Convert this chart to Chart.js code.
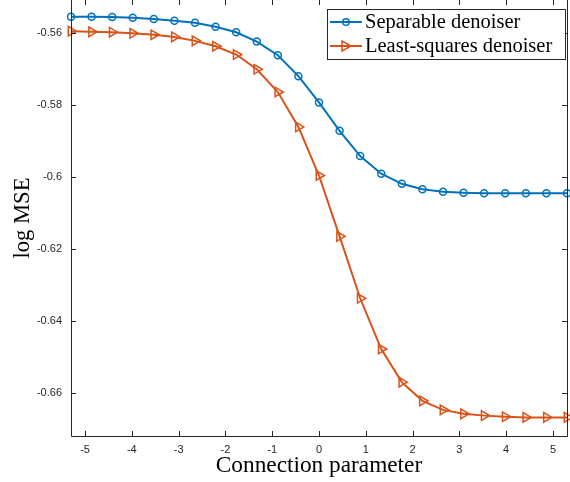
<!DOCTYPE html>
<html>
<head>
<meta charset="utf-8">
<script src="https://cdn.jsdelivr.net/npm/chart.js@4/dist/chart.umd.min.js"></script>
<style>
  html, body { margin: 0; padding: 0; background: #fff; }
  #wrap { width: 570px; height: 482px; position: relative; }
</style>
</head>
<body>
<div id="wrap"><canvas id="mseChart"></canvas></div>
<script>
// connection parameter values (x) shared by both curves
const connParam = [-5.3, -4.86, -4.42, -3.98, -3.53, -3.09, -2.65, -2.21, -1.77, -1.33, -0.88, -0.44,
  0, 0.44, 0.88, 1.33, 1.77, 2.21, 2.65, 3.09, 3.53, 3.98, 4.42, 4.86, 5.3];

const separableMse = [-0.5554, -0.5554, -0.5555, -0.5557, -0.5560, -0.5565, -0.5571, -0.5582, -0.5597,
  -0.5623, -0.5661, -0.5719, -0.5792, -0.5871, -0.5941, -0.5990, -0.6018, -0.6033, -0.6040, -0.6043,
  -0.6044, -0.6044, -0.6044, -0.6044, -0.6044];

const leastSquaresMse = [-0.5594, -0.5596, -0.5597, -0.5600, -0.5604, -0.5610, -0.5621, -0.5636, -0.5659,
  -0.5700, -0.5763, -0.5860, -0.5995, -0.6164, -0.6336, -0.6477, -0.6569, -0.6621, -0.6646, -0.6657,
  -0.6662, -0.6665, -0.6667, -0.6667, -0.6667];

const xTicks = [-5, -4, -3, -2, -1, 0, 1, 2, 3, 4, 5];
const yTicks = [-0.66, -0.64, -0.62, -0.6, -0.58, -0.56];

const seriesNames = ['Separable denoiser', 'Least-squares denoiser'];
const axisColor = '#262626';

function toPoints(ys) {
  return connParam.map((x, i) => ({ x: x, y: ys[i] }));
}

// drop the label overhang padding so the plot box fills the canvas like matlab's
function noPad(s) {
  s.paddingTop = 0; s.paddingBottom = 0;
  s.paddingLeft = 0; s.paddingRight = 0;
}

// matlab style box: inward ticks on all four sides
const boxAxes = {
  id: 'boxAxes',
  afterDatasetsDraw(chart) {
    const c = chart.ctx, a = chart.chartArea;
    const xs = chart.scales.x, ys = chart.scales.y;
    c.save();
    c.strokeStyle = axisColor;
    c.lineWidth = 1;
    c.beginPath();
    c.moveTo(a.left + 0.5, a.top); c.lineTo(a.left + 0.5, a.bottom + 0.5);
    c.lineTo(a.right + 0.5, a.bottom + 0.5); c.lineTo(a.right + 0.5, a.top);
    xTicks.forEach(v => {
      const px = Math.round(xs.getPixelForValue(v)) + 0.5;
      c.moveTo(px, a.bottom); c.lineTo(px, a.bottom - 5);
      c.moveTo(px, a.top); c.lineTo(px, a.top + 5);
    });
    yTicks.forEach(v => {
      const py = Math.round(ys.getPixelForValue(v)) + 0.5;
      c.moveTo(a.left, py); c.lineTo(a.left + 5, py);
      c.moveTo(a.right, py); c.lineTo(a.right - 5, py);
    });
    c.stroke();
    c.restore();
  }
};

const boxLegend = {
  id: 'boxLegend',
  afterDraw(chart) {
    const c = chart.ctx;
    const bx = 327.5, by = 9.5, bw = 238, bh = 50;
    c.save();
    c.fillStyle = '#fff';
    c.fillRect(bx, by, bw, bh);
    c.strokeStyle = axisColor;
    c.lineWidth = 1;
    c.strokeRect(bx, by, bw, bh);
    c.font = '20.5px "Liberation Serif", serif';
    c.textBaseline = 'middle';
    chart.data.datasets.forEach((ds, i) => {
      const y = by + 12.5 + i * 24;
      c.strokeStyle = ds.borderColor;
      c.lineWidth = 2;
      c.beginPath();
      c.moveTo(330, y); c.lineTo(362, y);
      c.stroke();
      c.lineWidth = 1.5;
      c.beginPath();
      if (i === 0) {
        c.arc(346, y, 3.3, 0, Math.PI * 2);
      } else {
        c.moveTo(351, y); c.lineTo(342, y - 5); c.lineTo(342, y + 5); c.closePath();
      }
      c.stroke();
      c.fillStyle = '#000';
      c.fillText(ds.label, 365, y + 1);
    });
    c.restore();
  }
};

const ctx = document.getElementById('mseChart').getContext('2d');
const chart = new Chart(ctx, {
  type: 'line',
  data: {
    datasets: [{
      label: seriesNames[0],
      data: toPoints(separableMse),
      borderColor: '#0072BD',
      backgroundColor: 'rgba(0,0,0,0)',
      borderWidth: 2,
      pointStyle: 'circle',
      pointRadius: 3.5,
      pointBorderWidth: 1.5,
      pointBackgroundColor: 'rgba(0,0,0,0)',
      tension: 0,
      clip: false
    }, {
      label: seriesNames[1],
      data: toPoints(leastSquaresMse),
      borderColor: '#D95319',
      backgroundColor: 'rgba(0,0,0,0)',
      borderWidth: 2,
      pointStyle: 'triangle',
      pointRotation: 90,
      pointRadius: 5.5,
      pointBorderWidth: 1.5,
      pointBackgroundColor: 'rgba(0,0,0,0)',
      tension: 0,
      clip: false
    }]
  },
  options: {
    responsive: true,
    maintainAspectRatio: false,
    animation: false,
    layout: { autoPadding: false, padding: { left: 0, right: 3, top: 0, bottom: 0 } },
    plugins: {
      legend: { display: false },
      tooltip: { enabled: false }
    },
    scales: {
      x: {
        type: 'linear',
        min: -5.3,
        max: 5.3,
        afterBuildTicks: s => { s.ticks = xTicks.map(v => ({ value: v })); },
        afterFit: s => { s.height = 46; noPad(s); },
        grid: { display: false, drawTicks: false },
        border: { display: false },
        ticks: {
          padding: 7,
          color: axisColor,
          font: { family: '"Liberation Sans", Arial, sans-serif', size: 11 },
          callback: v => String(v)
        },
        title: {
          display: true,
          text: 'Connection parameter',
          color: '#000',
          padding: { top: 0, bottom: 2 },
          font: { family: '"Liberation Serif", serif', size: 23.3 }
        }
      },
      y: {
        type: 'linear',
        min: -0.67186,
        max: -0.55075,
        afterBuildTicks: s => { s.ticks = yTicks.map(v => ({ value: v })); },
        afterFit: s => { s.width = 71; noPad(s); },
        grid: { display: false, drawTicks: false },
        border: { display: false },
        ticks: {
          padding: 9,
          color: axisColor,
          font: { family: '"Liberation Sans", Arial, sans-serif', size: 11 },
          callback: v => String(v)
        },
        title: {
          display: true,
          text: 'log MSE',
          color: '#000',
          padding: { top: 10, bottom: 0 },
          font: { family: '"Liberation Serif", serif', size: 22.6 }
        }
      }
    }
  },
  plugins: [boxAxes, boxLegend]
});
</script>
</body>
</html>
